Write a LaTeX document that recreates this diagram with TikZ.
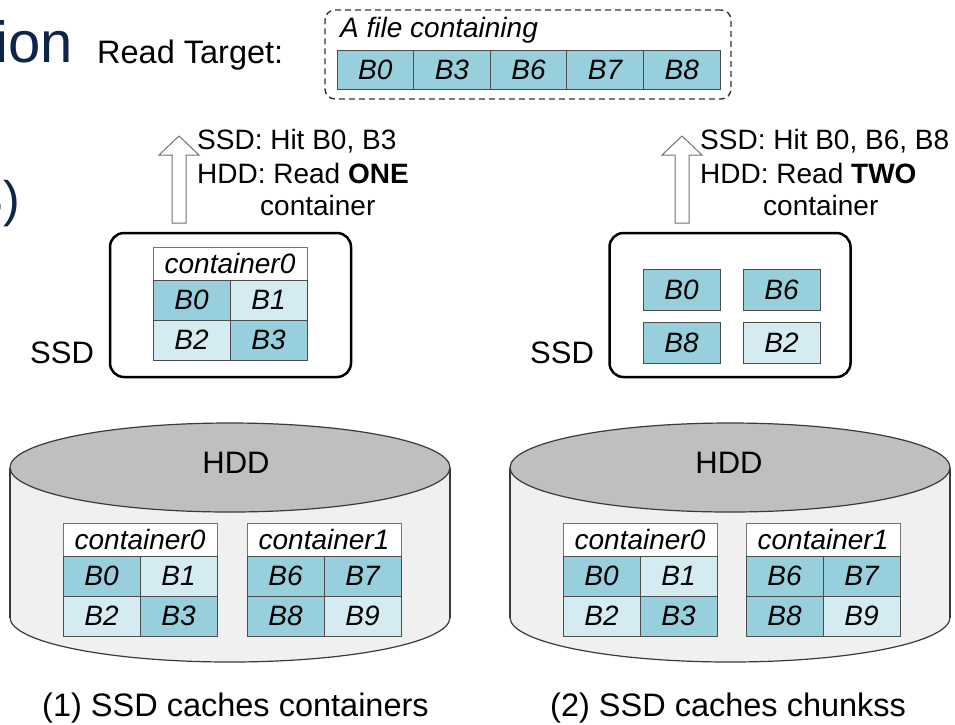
\documentclass[tikz,border=0pt]{standalone}
\usepackage{fontspec}
\setmainfont{Liberation Sans}
\definecolor{chunkD}{HTML}{97CFDC}
\definecolor{chunkL}{HTML}{D4ECF1}
\definecolor{diskTop}{HTML}{BFBFBF}
\definecolor{diskBody}{HTML}{F0F0F0}
\definecolor{diskLine}{HTML}{3A3A3A}
\definecolor{titleNavy}{HTML}{0E2448}
\newcommand\pxfont[1]{\fontsize{#1}{#1}\selectfont}

% a container: title row over a 2x2 grid of chunks
% #1 name, #2 left x, #3 top y, #4 title, #5 list colour/label
\newcommand\chunktable[5]{%
  \node[hdrbox] (#1-h) at (#2+77,#3+16.5) {#4};
  \foreach \fc/\lab [count=\i from 0] in {#5}{%
    \pgfmathsetmacro\cx{#2+38.5+77*mod(\i,2)}%
    \pgfmathsetmacro\cy{#3+53+40*int(\i/2)}%
    \node[cellbox,fill=\fc] (#1-\lab) at (\cx,\cy) {\lab};
  }%
}

% a disk drawn as a cylinder: #1 label name, #2 centre x, #3 label x
\newcommand\drawdisk[3]{%
  \path[fill=diskBody,draw=diskLine,line width=1.2pt] (#2,617.5) ellipse [x radius=220pt,y radius=44.5pt];
  \fill[diskBody] (#2-220,467.5) rectangle (#2+220,617.5);
  \draw[diskLine,line width=1.2pt] (#2-220,467.5) -- (#2-220,617.5) (#2+220,467.5) -- (#2+220,617.5);
  \path[fill=diskTop,draw=diskLine,line width=1.2pt] (#2,467.5) ellipse [x radius=220pt,y radius=44.5pt];
  \node[lbl,anchor=base] (#1) at (#3,473) {HDD};
}

\begin{document}
\begin{tikzpicture}[x=1pt,y=-1pt,
  lbl/.style={inner sep=0pt,font=\pxfont{31}},
  note/.style={inner sep=0pt,font=\pxfont{28},anchor=base west},
  cellbox/.style={draw=black!70,line width=0.9pt,inner sep=0pt,minimum width=77pt,minimum height=40pt,font=\pxfont{28}\itshape},
  hdrbox/.style={draw=black!55,line width=0.9pt,fill=white,inner sep=0pt,minimum width=154pt,minimum height=33pt,font=\pxfont{28}\itshape},
  ssdbox/.style={draw=black,line width=2.5pt,rounded corners=14pt,minimum width=241pt,minimum height=144pt,inner sep=0pt},
  uparrow/.style={draw=black!55,fill=white,line width=1pt,line join=miter}]
\useasboundingbox[fill=white] (0,0) rectangle (955,724);

% slide title fragments at the left edge
\node[anchor=base east,inner sep=0pt,font=\pxfont{58},text=titleNavy] (ttl) at (73,62) {ion};
\node[anchor=base east,inner sep=0pt,font=\pxfont{50},text=titleNavy] (ttl2) at (20,216) {3)};

% read target
\node[anchor=base west,inner sep=0pt,font=\pxfont{32.5}] (rt) at (97,63) {Read Target:};
\node[draw=black!80,dash pattern=on 6pt off 4pt,line width=1.4pt,rounded corners=10pt,minimum width=406pt,minimum height=89pt,inner sep=0pt] (file) at (528,54.5) {};
\node[note,font=\pxfont{28}\itshape] (filecap) at (340,37) {A file containing};
\foreach \lab [count=\i from 0] in {B0,B3,B6,B7,B8}
  \node[cellbox,fill=chunkD,minimum width=76.6pt,minimum height=39pt] (f-\lab) at (337+38.3+76.6*\i,69.5) {\lab};

% (1) SSD caches containers
\draw[uparrow] (172,223) -- (172,155) -- (159,155) -- (179,136) -- (199,155) -- (186,155) -- (186,223) -- cycle;
\node[note] (hitL) at (197,149) {SSD: Hit B0, B3};
\node[note] (readL) at (197,183) {HDD: Read \textbf{ONE}};
\node[note] (contL) at (260,215) {container};
\node[ssdbox] (ssdL) at (230.5,305) {};
\node[lbl,anchor=base west] (ssdLlbl) at (30,363) {SSD};
\chunktable{sc}{153}{247}{container0}{chunkD/B0,chunkL/B1,chunkL/B2,chunkD/B3}
\drawdisk{hddL}{230}{236}
\chunktable{la}{63}{523}{container0}{chunkD/B0,chunkL/B1,chunkL/B2,chunkD/B3}
\chunktable{lb}{247}{523}{container1}{chunkD/B6,chunkD/B7,chunkD/B8,chunkL/B9}
\node[lbl,anchor=base west,font=\pxfont{32.5}] (capL) at (42,716) {(1) SSD caches containers};

% (2) SSD caches chunks
\draw[uparrow] (675,223) -- (675,155) -- (662,155) -- (682,136) -- (702,155) -- (689,155) -- (689,223) -- cycle;
\node[note] (hitR) at (700,149) {SSD: Hit B0, B6, B8};
\node[note] (readR) at (700,183) {HDD: Read \textbf{TWO}};
\node[note] (contR) at (763,215) {container};
\node[ssdbox] (ssdR) at (730,305) {};
\node[lbl,anchor=base west] (ssdRlbl) at (530,363) {SSD};
\node[cellbox,fill=chunkD,minimum height=41pt] (sr-B0) at (681.5,289.5) {B0};
\node[cellbox,fill=chunkD,minimum height=41pt] (sr-B6) at (781.5,289.5) {B6};
\node[cellbox,fill=chunkD,minimum height=41pt] (sr-B8) at (681.5,343) {B8};
\node[cellbox,fill=chunkL,minimum height=41pt] (sr-B2) at (781.5,343) {B2};
\drawdisk{hddR}{730}{729}
\chunktable{ra}{563}{523}{container0}{chunkD/B0,chunkL/B1,chunkL/B2,chunkD/B3}
\chunktable{rb}{746}{523}{container1}{chunkD/B6,chunkD/B7,chunkD/B8,chunkL/B9}
\node[lbl,anchor=base west,font=\pxfont{32.5}] (capR) at (550,716) {(2) SSD caches chunkss};
\end{tikzpicture}
\end{document}
